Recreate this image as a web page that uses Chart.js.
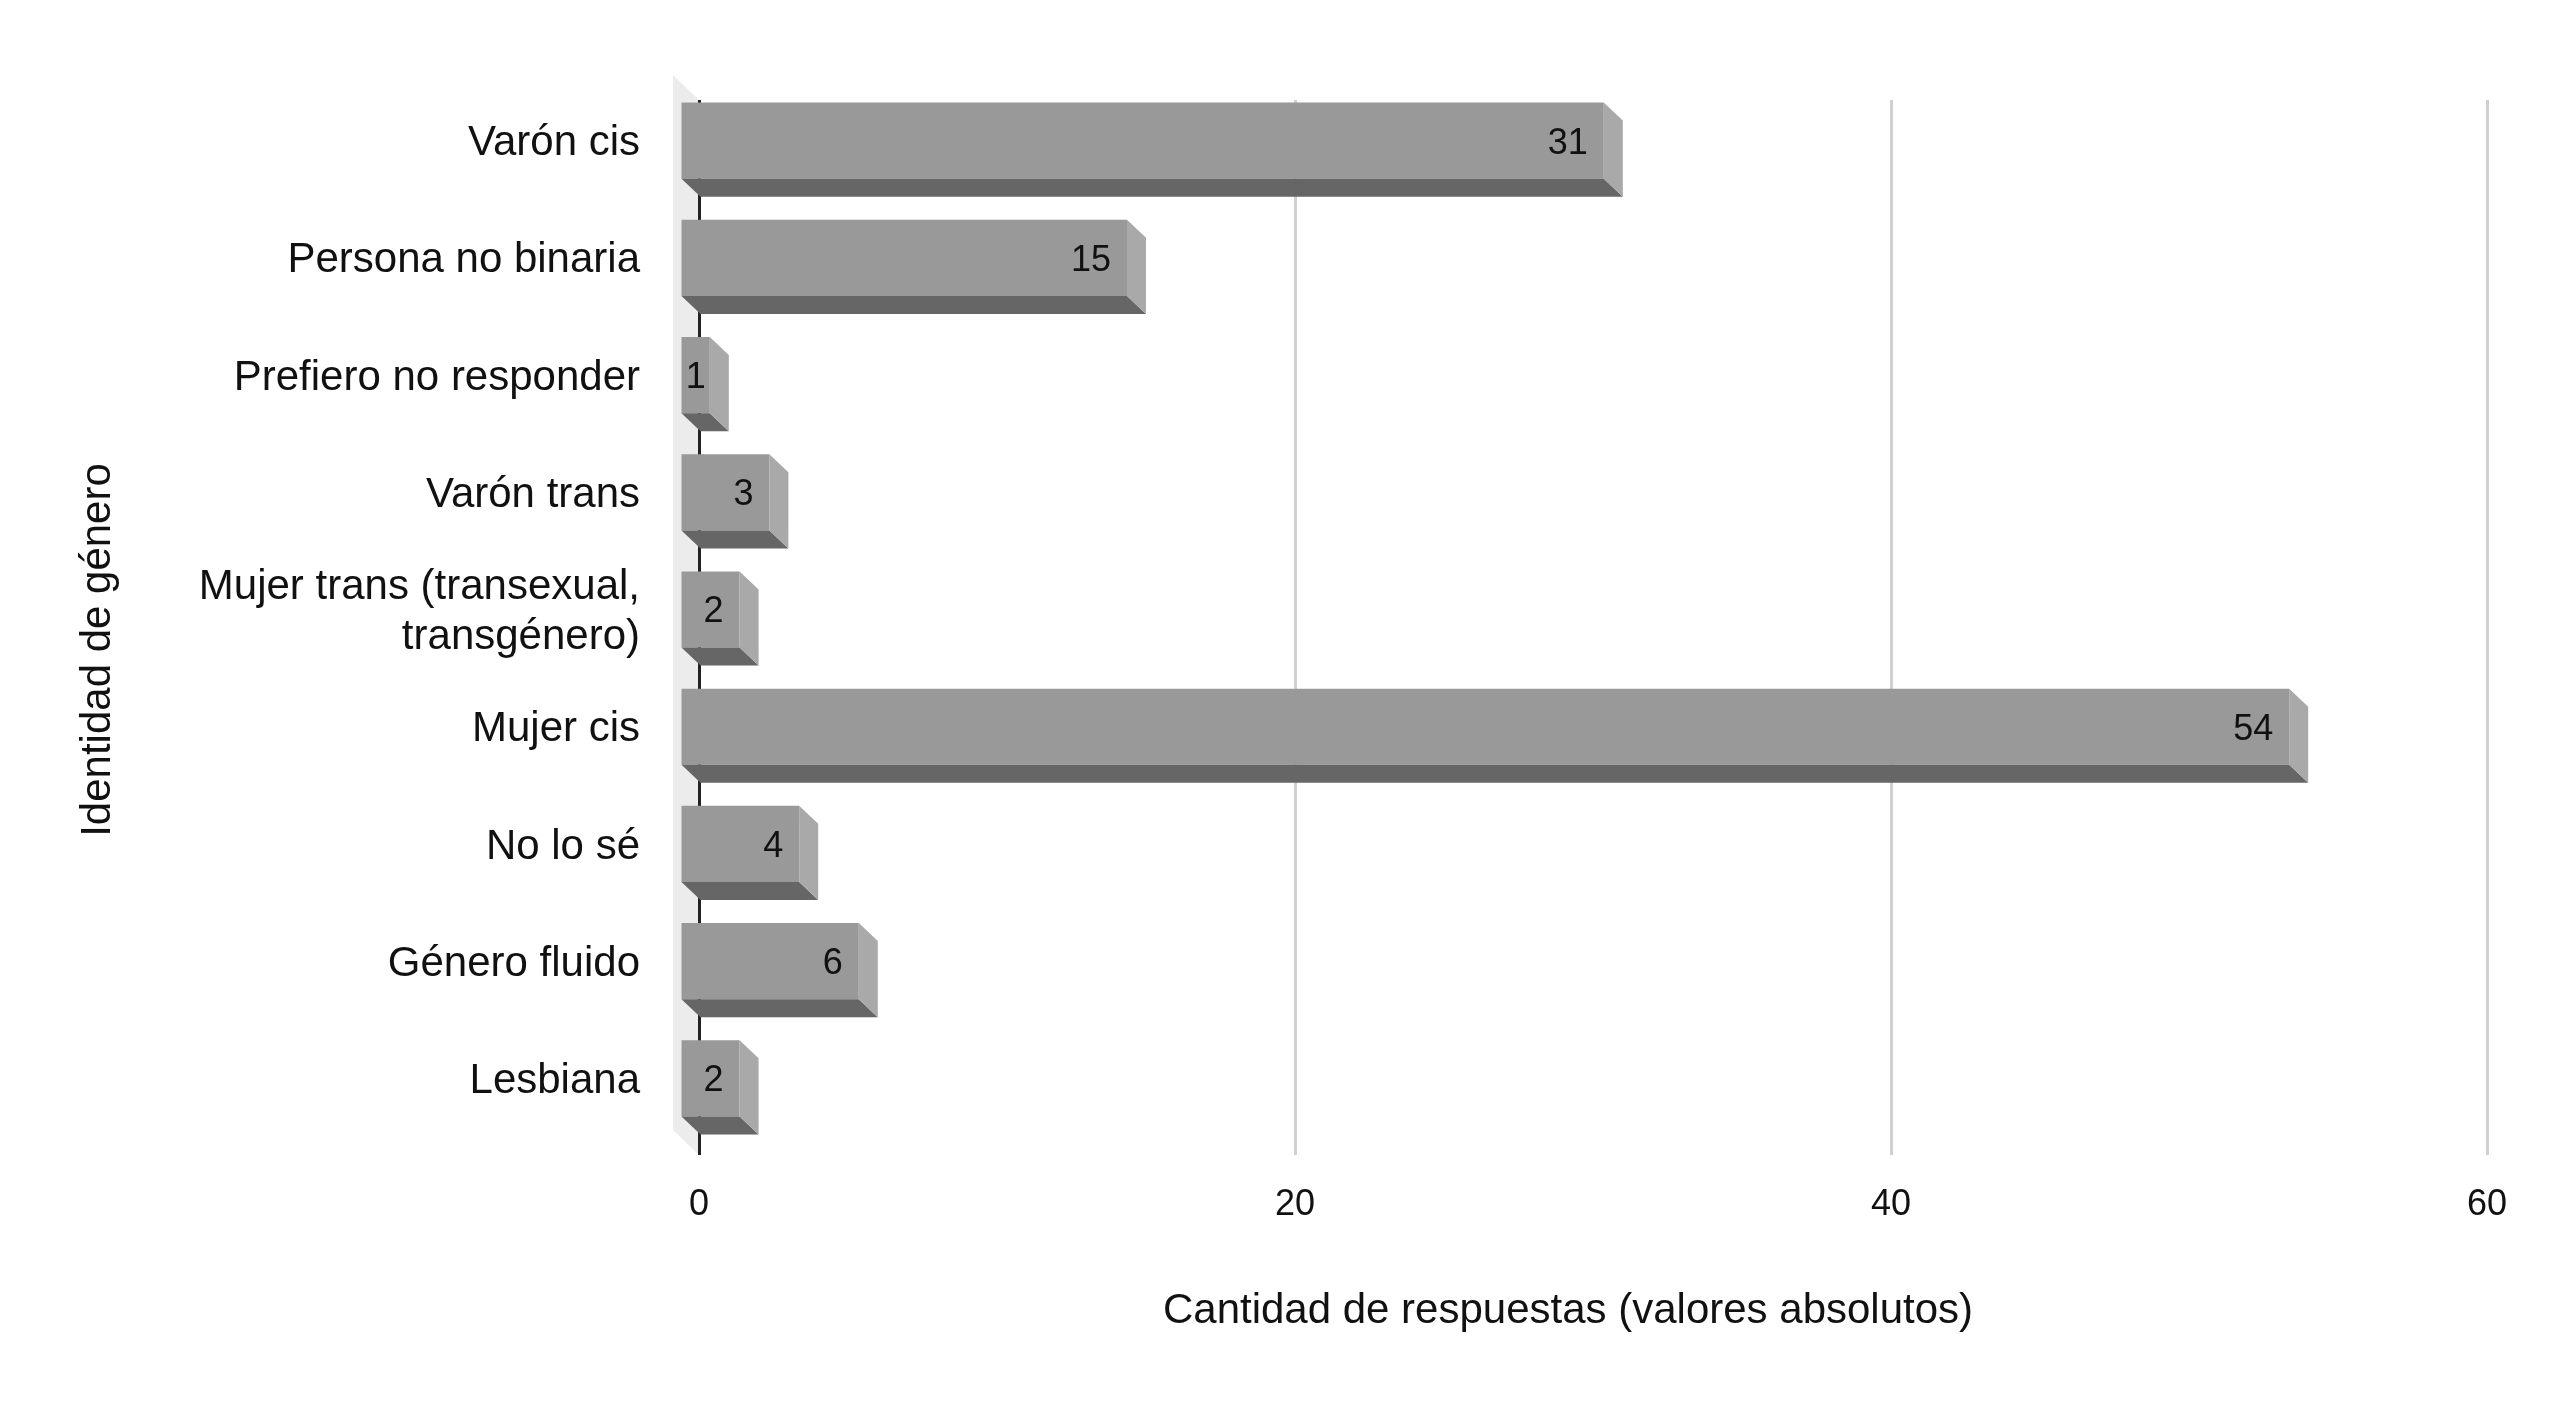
<!DOCTYPE html>
<html>
<head>
<meta charset="utf-8">
<script src="https://cdn.jsdelivr.net/npm/chart.js@4/dist/chart.umd.min.js"></script>
<style>
  html, body { margin: 0; padding: 0; background: #fff; }
  #wrap { width: 2560px; height: 1406px; }
</style>
</head>
<body>
<div id="wrap"><canvas id="chart"></canvas></div>
<script>
const categories = [
    "Varón cis",
    "Persona no binaria",
    "Prefiero no responder",
    "Varón trans",
    ["Mujer trans (transexual,", "transgénero)"],
    "Mujer cis",
    "No lo sé",
    "Género fluido",
    "Lesbiana"
];
const responses = [31, 15, 1, 3, 2, 54, 4, 6, 2];
const xMin = 0;
const xMax = 60;
const xStep = 20;

const xTitle = "Cantidad de respuestas (valores absolutos)";
const yTitle = "Identidad de género";

const FONT = "'Liberation Sans', Arial, sans-serif";
const DX = 19, DY = 18;       // depth of the bars
const WX = 26, WY = 25;       // depth of the side wall

// --- 3D look: wall, side faces, labels, titles ---
const depth3d = {
    id: "depth3d",
    beforeDraw(chart) {
        const { ctx, chartArea: a } = chart;
        ctx.save();
        ctx.fillStyle = "#ececec";
        ctx.beginPath();
        ctx.moveTo(a.left - WX, a.top - WY);
        ctx.lineTo(a.left, a.top);
        ctx.lineTo(a.left, a.bottom);
        ctx.lineTo(a.left - WX, a.bottom - WY);
        ctx.closePath();
        ctx.fill();
        ctx.restore();
    },
    beforeDatasetDraw(chart) {
        chart.ctx.save();
        chart.ctx.translate(-DX, -DY);
    },
    afterDatasetDraw(chart) {
        chart.ctx.restore();
    },
    afterDatasetsDraw(chart) {
        const ctx = chart.ctx;
        const meta = chart.getDatasetMeta(0);
        ctx.save();
        meta.data.forEach((bar, i) => {
            const p = bar.getProps(["x", "y", "base", "height"], true);
            const bt = p.y - p.height / 2, bb = p.y + p.height / 2;
            const fl = p.base - DX, fr = p.x - DX;
            const ft = bt - DY, fb = bb - DY;

            // bottom face
            ctx.fillStyle = "#666666";
            ctx.beginPath();
            ctx.moveTo(fl, fb);
            ctx.lineTo(fr, fb);
            ctx.lineTo(p.x, bb);
            ctx.lineTo(p.base, bb);
            ctx.closePath();
            ctx.fill();

            // right face
            ctx.fillStyle = "#a9a9a9";
            ctx.beginPath();
            ctx.moveTo(fr, ft);
            ctx.lineTo(p.x, bt);
            ctx.lineTo(p.x, bb);
            ctx.lineTo(fr, fb);
            ctx.closePath();
            ctx.fill();

            // value label
            const txt = String(responses[i]);
            ctx.font = "36px " + FONT;
            ctx.fillStyle = "#111";
            ctx.textBaseline = "middle";
            ctx.textAlign = "left";
            const w = ctx.measureText(txt).width;
            const lx = Math.max(fr - 16 - w, fl + (fr - fl - w) / 2);
            ctx.fillText(txt, lx, (ft + fb) / 2 + 3);
        });
        ctx.restore();
    },
    afterDraw(chart) {
        const { ctx } = chart;
        ctx.save();
        ctx.fillStyle = "#111";
        ctx.font = "42px " + FONT;
        ctx.textAlign = "center";
        ctx.textBaseline = "middle";
        ctx.fillText(xTitle, 1568, 1311);
        ctx.translate(98, 650);
        ctx.rotate(-Math.PI / 2);
        ctx.fillText(yTitle, 0, 0);
        ctx.restore();
    }
};

new Chart(document.getElementById("chart"), {
    type: "bar",
    data: {
        labels: categories,
        datasets: [{
            data: responses,
            backgroundColor: "#999999",
            borderWidth: 0,
            barPercentage: 0.65,
            categoryPercentage: 1,
            clip: false
        }]
    },
    options: {
        indexAxis: "y",
        responsive: true,
        maintainAspectRatio: false,
        animation: false,
        layout: { padding: { top: 100, right: 73, bottom: 0, left: 0 } },
        plugins: {
            legend: { display: false },
            tooltip: { enabled: false }
        },
        scales: {
            x: {
                min: xMin,
                max: xMax,
                afterFit: s => { s.height = 251; },
                ticks: {
                    stepSize: xStep,
                    padding: 28,
                    color: "#111",
                    font: { family: FONT, size: 36 }
                },
                grid: {
                    drawTicks: false,
                    color: c => c.tick && c.tick.value === 0 ? "#222222" : "#d0d0d0",
                    lineWidth: 3
                },
                border: { display: false }
            },
            y: {
                afterFit: s => { s.width = 699; },
                ticks: {
                    padding: 59,
                    labelOffset: -15,
                    color: "#111",
                    font: { family: FONT, size: 42, lineHeight: 1.2 }
                },
                grid: { display: false, drawTicks: false },
                border: { display: false }
            }
        }
    },
    plugins: [depth3d]
});
</script>
</body>
</html>
